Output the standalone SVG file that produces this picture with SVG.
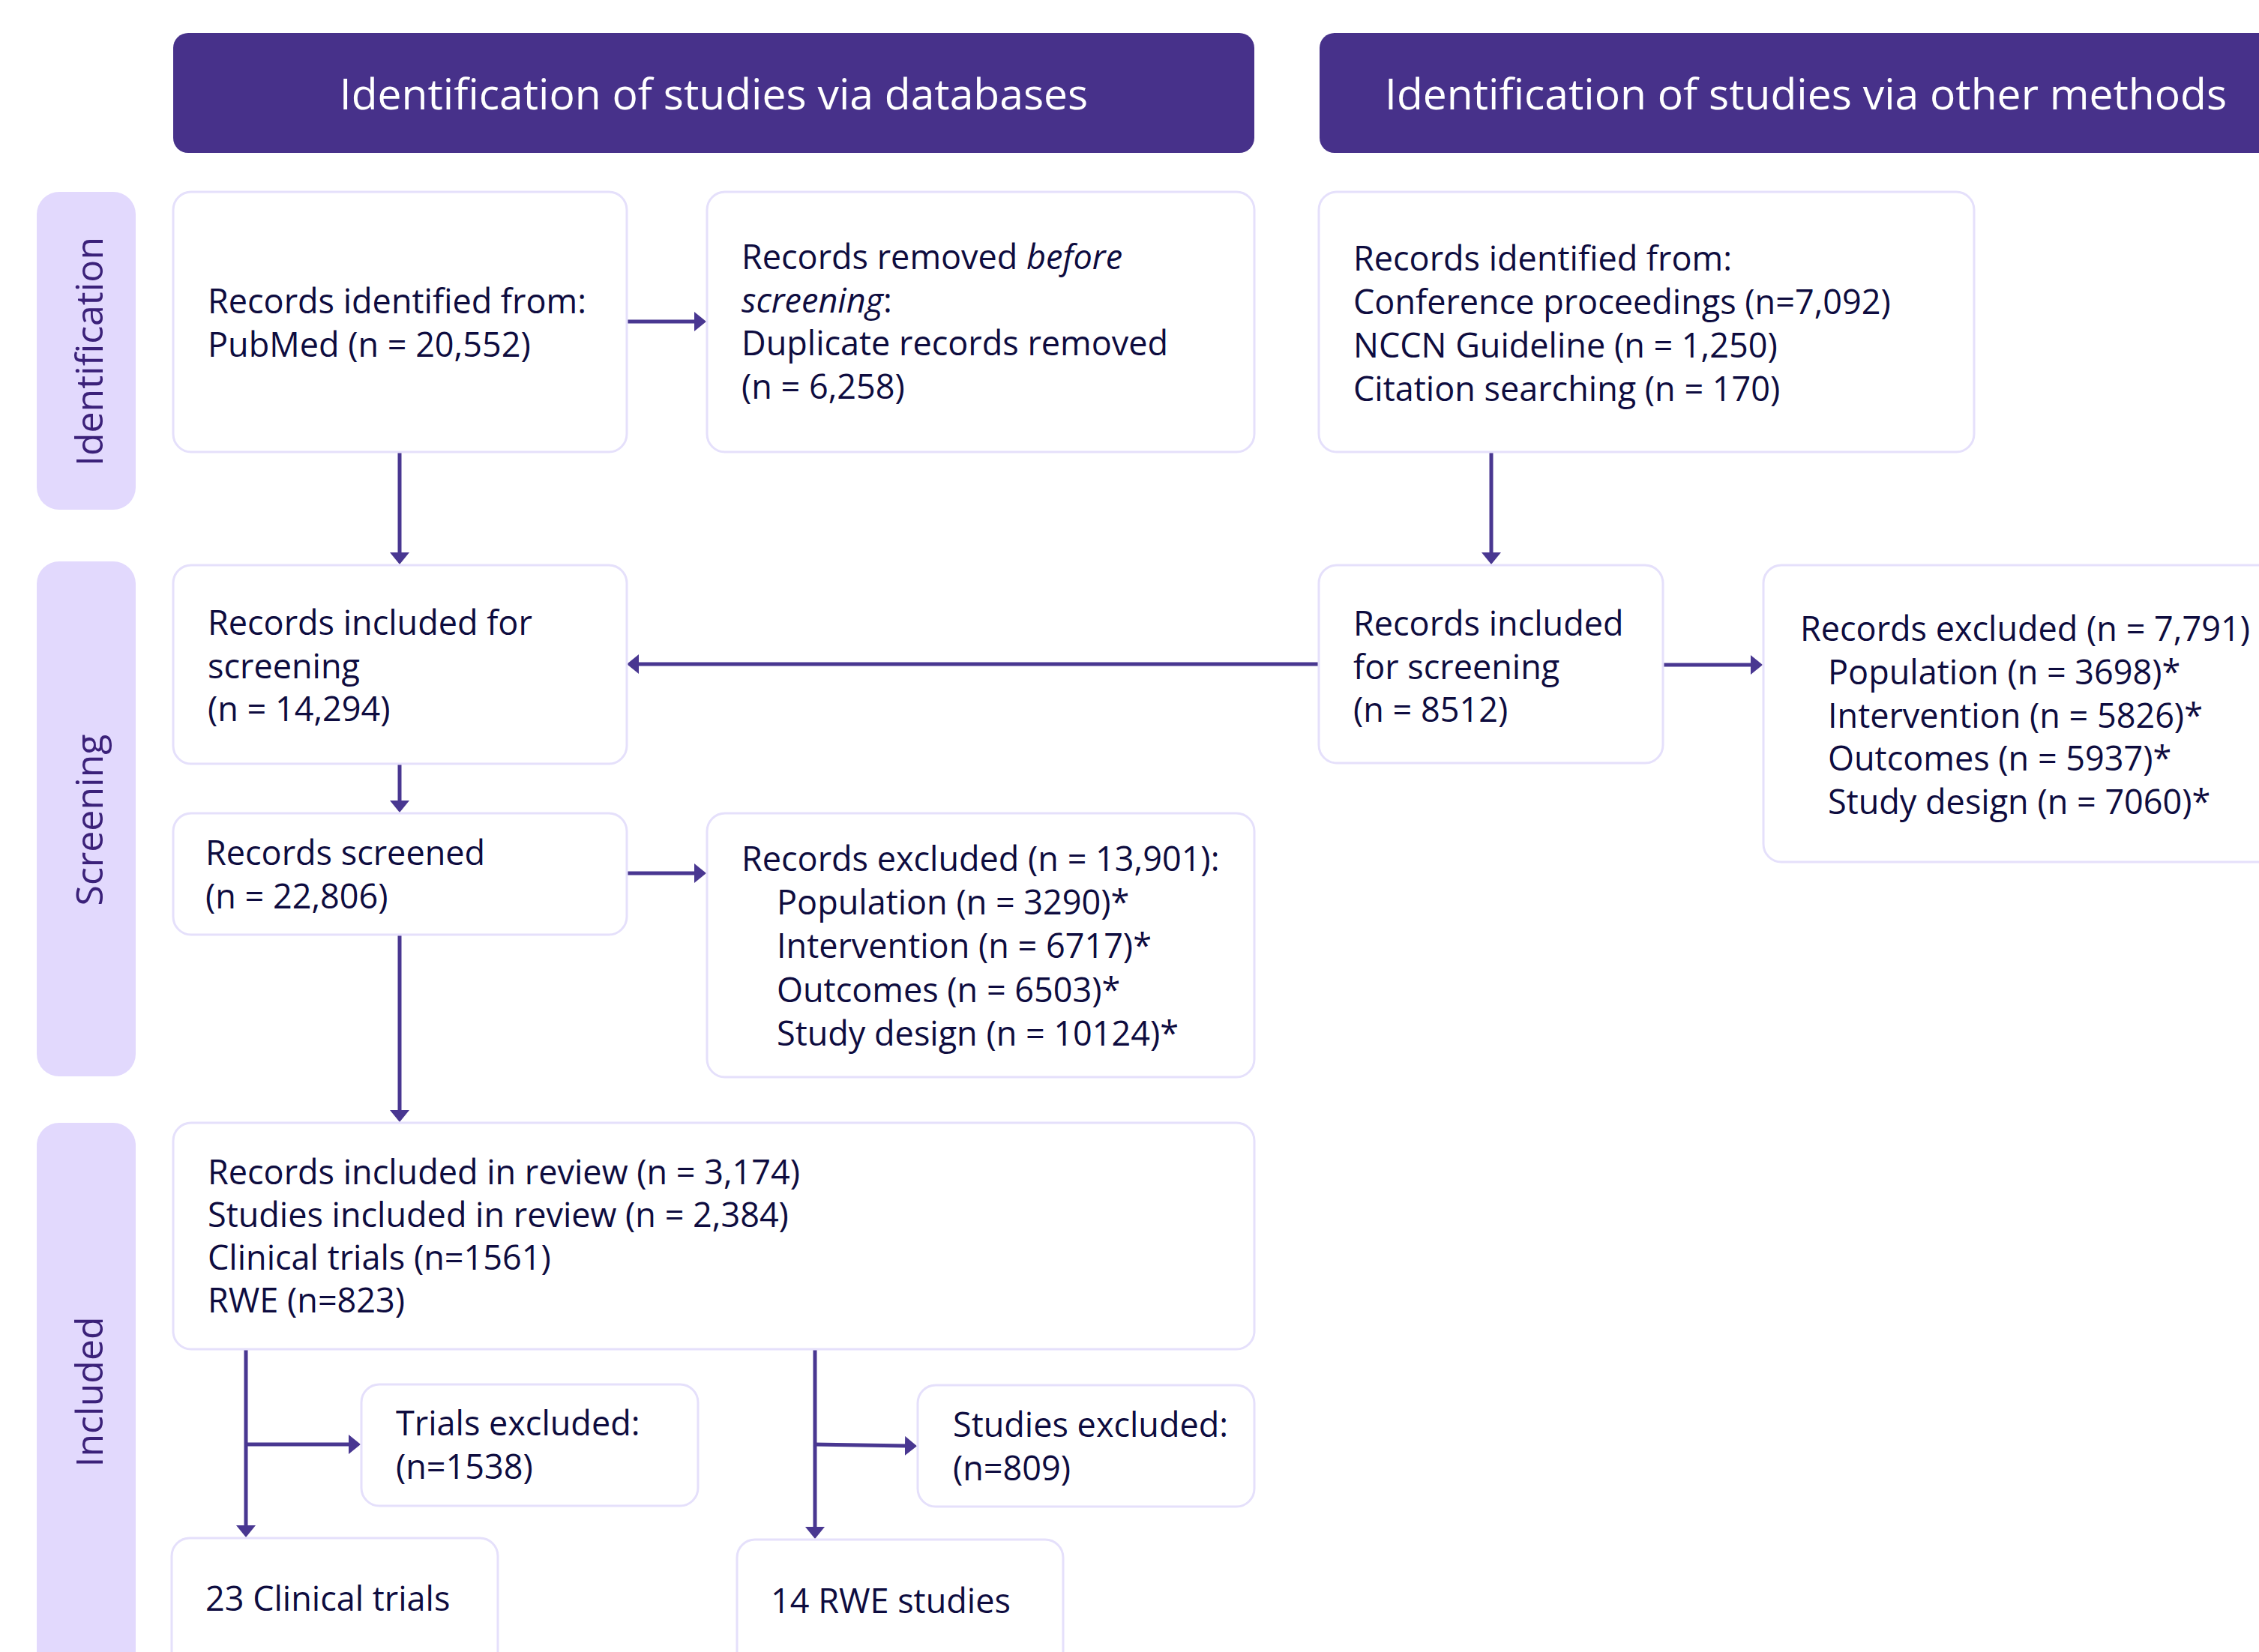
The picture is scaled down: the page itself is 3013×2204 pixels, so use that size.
<svg xmlns="http://www.w3.org/2000/svg" width="3013" height="2204" viewBox="0 0 3013 2204">
<style>
.box{fill:#ffffff;stroke:#e5e0fb;stroke-width:3}
.hdr{fill:#47318a}
.stage{fill:#e2d9fd}
.t{font-family:"Open Sans","Noto Sans","Liberation Sans",sans-serif;font-size:45px;fill:#0e0c3f}
.ht{font-family:"Open Sans","Noto Sans","Liberation Sans",sans-serif;font-size:57px;fill:#ffffff}
.st{font-family:"Open Sans","Noto Sans","Liberation Sans",sans-serif;font-size:50px;fill:#3b2179;text-anchor:middle}
.conn{stroke:#493791;stroke-width:5;fill:none;marker-end:url(#ah)}
.br{stroke:#493791;stroke-width:5;fill:none}
</style>
<defs>
<marker id="ah" viewBox="0 0 16 26" refX="2" refY="13" markerWidth="16" markerHeight="26" markerUnits="userSpaceOnUse" orient="auto">
<path d="M0,0 L16,13 L0,26 Z" fill="#493791"/>
</marker>
</defs>
<rect width="3013" height="2204" fill="#ffffff"/>

<g id="header-databases">
<rect class="hdr" x="231" y="44" width="1442" height="160" rx="20"/>
<text class="ht" x="952" y="146" text-anchor="middle">Identification of studies via databases</text>
</g>
<g id="header-other">
<rect class="hdr" x="1760" y="44" width="1300" height="160" rx="20"/>
<text class="ht" x="1847" y="146">Identification of studies via other methods</text>
</g>

<g id="stage-identification">
<rect class="stage" x="49" y="256" width="132" height="424" rx="30"/>
<text class="st" transform="translate(137,469) rotate(-90)">Identification</text>
</g>
<g id="stage-screening">
<rect class="stage" x="49" y="749" width="132" height="687" rx="30"/>
<text class="st" transform="translate(137,1094) rotate(-90)">Screening</text>
</g>
<g id="stage-included">
<rect class="stage" x="49" y="1498" width="132" height="760" rx="30"/>
<text class="st" transform="translate(137,1857) rotate(-90)">Included</text>
</g>

<g id="connectors">
<path class="conn" d="M533,604 V739"/>
<path class="conn" d="M836,429 H928"/>
<path class="conn" d="M1989,604 V739"/>
<path class="conn" d="M1758,886 H850"/>
<path class="conn" d="M2218,887 H2337"/>
<path class="conn" d="M533,1019 V1070"/>
<path class="conn" d="M836,1165 H928"/>
<path class="conn" d="M533,1247 V1483"/>
<path class="conn" d="M328,1800 V2037"/>
<path class="conn" d="M326,1927 H467"/>
<path class="conn" d="M1087,1800 V2039"/>
<path class="conn" d="M1085,1927 L1209,1929"/>
</g>

<g id="n-db-identified">
<rect class="box" x="231" y="256" width="605" height="347" rx="24"/>
<text class="t" x="277" y="418">Records identified from:<tspan x="277" dy="57.6">PubMed (n = 20,552)</tspan></text>
</g>
<g id="n-db-removed">
<rect class="box" x="943" y="256" width="730" height="347" rx="24"/>
<text class="t" x="989" y="359">Records removed <tspan font-style="italic">before</tspan><tspan x="989" dy="57.6" font-style="italic">screening</tspan>:<tspan x="989" dy="57.6">Duplicate records removed</tspan><tspan x="989" dy="57.6">(n = 6,258)</tspan></text>
</g>
<g id="n-other-identified">
<rect class="box" x="1759" y="256" width="874" height="347" rx="24"/>
<text class="t" x="1805" y="361">Records identified from:<tspan x="1805" dy="58">Conference proceedings (n=7,092)</tspan><tspan x="1805" dy="58">NCCN Guideline (n = 1,250)</tspan><tspan x="1805" dy="58">Citation searching (n = 170)</tspan></text>
</g>
<g id="n-db-included">
<rect class="box" x="231" y="754" width="605" height="265" rx="24"/>
<text class="t" x="277" y="847">Records included for<tspan x="277" dy="57.6">screening</tspan><tspan x="277" dy="57.6">(n = 14,294)</tspan></text>
</g>
<g id="n-other-included">
<rect class="box" x="1759" y="754" width="459" height="264" rx="24"/>
<text class="t" x="1805" y="848">Records included<tspan x="1805" dy="57.6">for screening</tspan><tspan x="1805" dy="57.6">(n = 8512)</tspan></text>
</g>
<g id="n-other-excluded">
<rect class="box" x="2352" y="754" width="720" height="396" rx="24"/>
<text class="t" x="2401" y="855">Records excluded (n = 7,791)<tspan x="2438" dy="57.8">Population (n = 3698)*</tspan><tspan x="2438" dy="57.8">Intervention (n = 5826)*</tspan><tspan x="2438" dy="57.8">Outcomes (n = 5937)*</tspan><tspan x="2438" dy="57.8">Study design (n = 7060)*</tspan></text>
</g>
<g id="n-screened">
<rect class="box" x="231" y="1085" width="605" height="162" rx="24"/>
<text class="t" x="274" y="1154">Records screened<tspan x="274" dy="58">(n = 22,806)</tspan></text>
</g>
<g id="n-db-excluded">
<rect class="box" x="943" y="1085" width="730" height="352" rx="24"/>
<text class="t" x="989" y="1162">Records excluded (n = 13,901):<tspan x="1036" dy="58.2">Population (n = 3290)*</tspan><tspan x="1036" dy="58.2">Intervention (n = 6717)*</tspan><tspan x="1036" dy="58.2">Outcomes (n = 6503)*</tspan><tspan x="1036" dy="58.2">Study design (n = 10124)*</tspan></text>
</g>
<g id="n-included">
<rect class="box" x="231" y="1498" width="1442" height="302" rx="24"/>
<text class="t" x="277" y="1580">Records included in review (n = 3,174)<tspan x="277" dy="57">Studies included in review (n = 2,384)</tspan><tspan x="277" dy="57">Clinical trials (n=1561)</tspan><tspan x="277" dy="57">RWE (n=823)</tspan></text>
</g>
<g id="n-trials-excluded">
<rect class="box" x="482" y="1847" width="449" height="162" rx="24"/>
<text class="t" x="528" y="1915">Trials excluded:<tspan x="528" dy="58">(n=1538)</tspan></text>
</g>
<g id="n-studies-excluded">
<rect class="box" x="1224" y="1848" width="449" height="162" rx="24"/>
<text class="t" x="1271" y="1917">Studies excluded:<tspan x="1271" dy="58">(n=809)</tspan></text>
</g>
<g id="n-clinical-trials">
<rect class="box" x="229" y="2052" width="435" height="200" rx="24"/>
<text class="t" x="274" y="2149">23 Clinical trials</text>
</g>
<g id="n-rwe-studies">
<rect class="box" x="983" y="2054" width="435" height="200" rx="24"/>
<text class="t" x="1028" y="2152">14 RWE studies</text>
</g>
</svg>
